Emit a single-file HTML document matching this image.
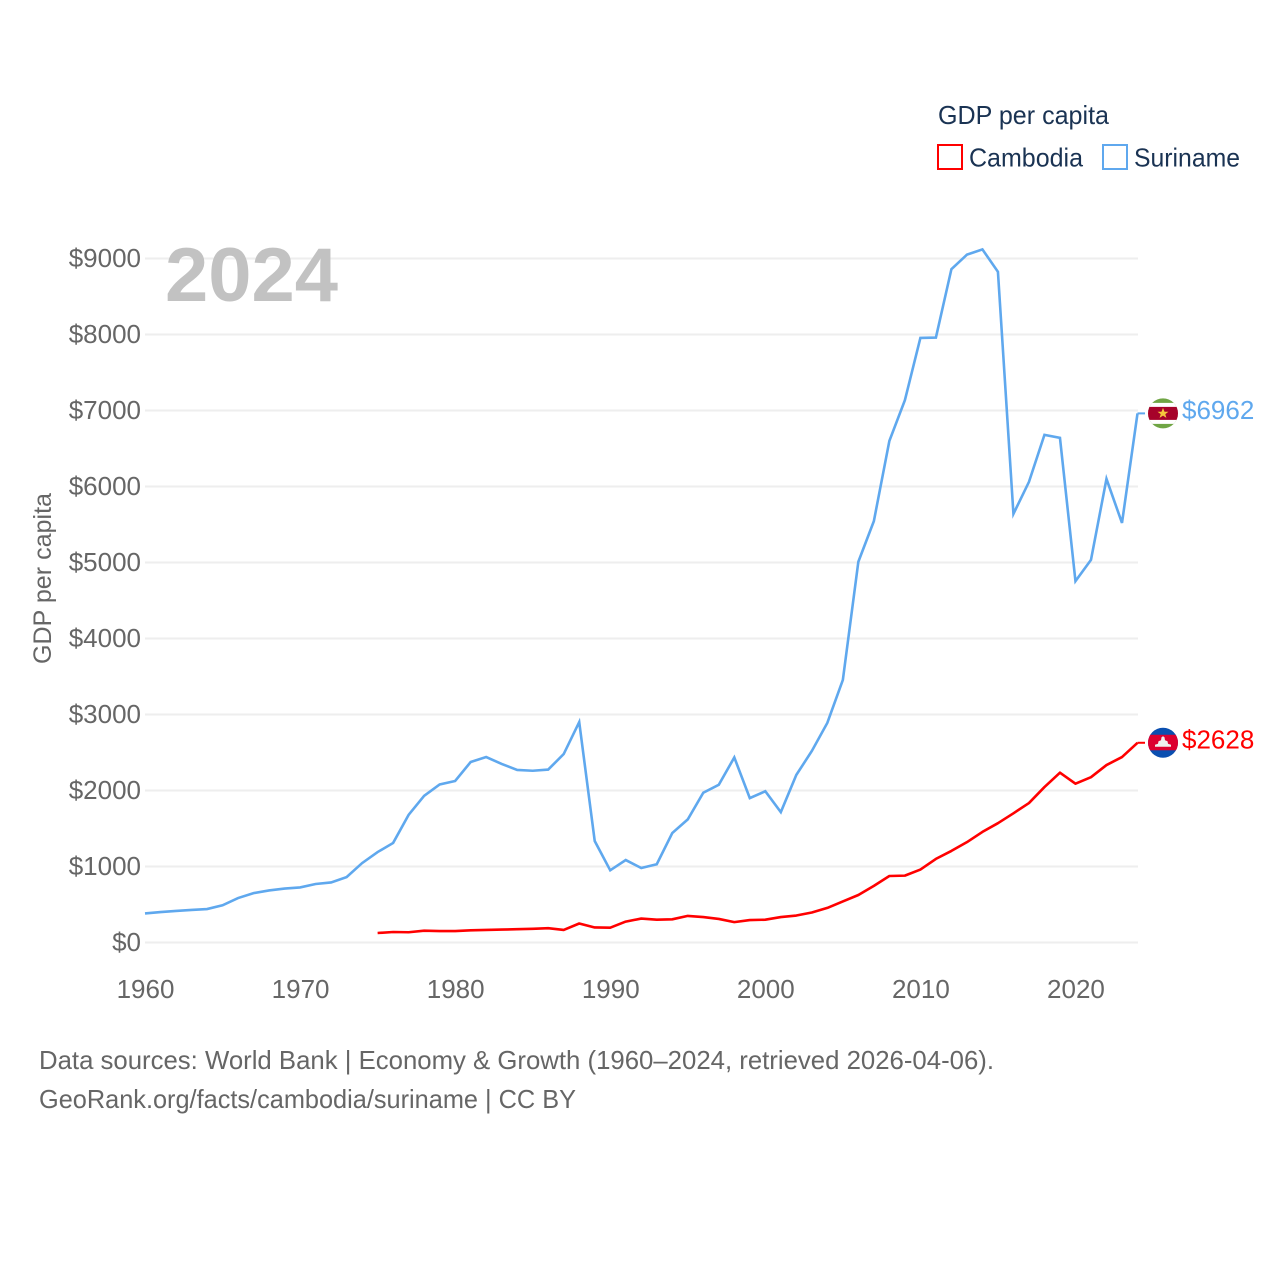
<!DOCTYPE html>
<html lang="en">
<head>
<meta charset="utf-8">
<title>GDP per capita: Cambodia and Suriname</title>
<style>
html,body{margin:0;padding:0;background:#fff;width:1280px;height:1280px;overflow:hidden}
svg{display:block;font-family:"Liberation Sans",Arial,sans-serif}
</style>
</head>
<body>
<svg id="chart" width="1280" height="1280" viewBox="0 0 1280 1280" xmlns="http://www.w3.org/2000/svg">
  <defs>
    <clipPath id="flag-clip"><circle cx="0" cy="0" r="15"></circle></clipPath>
  </defs>
  <rect x="0" y="0" width="1280" height="1280" fill="#fff"></rect>
  <g id="grid"></g>
  <g id="y-ticks"></g>
  <g id="x-ticks"></g>
  <text x="165" y="301" font-size="76" font-weight="700" fill="#c2c2c2" textLength="173" lengthAdjust="spacingAndGlyphs">2024</text>
  <text transform="translate(51,664) rotate(-90)" font-size="25" fill="#666" textLength="171" lengthAdjust="spacingAndGlyphs">GDP per capita</text>
  <g id="series"></g>
  <g>
    <text x="938" y="124" font-size="26" fill="#1a3353" textLength="171" lengthAdjust="spacingAndGlyphs">GDP per capita</text>
    <g>
      <rect x="938" y="145" width="24" height="24" fill="#fff" stroke="#ff0000" stroke-width="2"></rect>
      <text x="969" y="166.5" font-size="26" fill="#1a3353" textLength="114" lengthAdjust="spacingAndGlyphs">Cambodia</text>
    </g>
    <g>
      <rect x="1103" y="145" width="24" height="24" fill="#fff" stroke="#5fa8ee" stroke-width="2"></rect>
      <text x="1134" y="166.5" font-size="26" fill="#1a3353" textLength="106" lengthAdjust="spacingAndGlyphs">Suriname</text>
    </g>
  </g>
  <g id="end-markers"></g>
  <g>
    <text x="39" y="1069" font-size="26" fill="#666" textLength="955" lengthAdjust="spacingAndGlyphs">Data sources: World Bank | Economy &amp; Growth (1960–2024, retrieved 2026-04-06).</text>
    <text x="39" y="1108" font-size="26" fill="#666" textLength="537" lengthAdjust="spacingAndGlyphs">GeoRank.org/facts/cambodia/suriname | CC BY</text>
  </g>
</svg>
<script>
const xTickYears = [1960, 1970, 1980, 1990, 2000, 2010, 2020];
const yTickValues = [0, 1000, 2000, 3000, 4000, 5000, 6000, 7000, 8000, 9000];
const surinameStartYear = 1960;
const surinameValues = [382, 400, 415, 428, 440, 490, 585, 650, 685, 710, 725, 770, 790, 860, 1045, 1190, 1310, 1680, 1930, 2080, 2125, 2375, 2440, 2350, 2270, 2260, 2275, 2480, 2900, 1335, 950, 1085, 980, 1030, 1440, 1620, 1970, 2075, 2435, 1900, 1990, 1715, 2205, 2520, 2890, 3455, 5010, 5545, 6600, 7135, 7955, 7960, 8860, 9050, 9120, 8825, 5640, 6060, 6680, 6640, 4755, 5035, 6100, 5520, 6962];
const cambodiaStartYear = 1975;
const cambodiaValues = [125, 138, 135, 155, 150, 150, 160, 165, 170, 175, 180, 188, 165, 250, 198, 195, 275, 315, 300, 305, 350, 335, 310, 268, 295, 300, 335, 355, 395, 455, 540, 625, 745, 875, 880, 960, 1100, 1205, 1320, 1455, 1570, 1700, 1835, 2045, 2235, 2090, 2175, 2335, 2440, 2628];

const SVG_NS = 'http://www.w3.org/2000/svg';
function xScale(year) { return 145 + (year - 1960) * (1137.5 - 145) / 64; }
function yScale(value) { return 942.5 - value * 0.076; }
function make(tag, attrs, parent) {
  const el = document.createElementNS(SVG_NS, tag);
  for (const k in attrs) el.setAttribute(k, attrs[k]);
  parent.appendChild(el);
  return el;
}

const grid = document.getElementById('grid');
const yTicks = document.getElementById('y-ticks');
yTickValues.forEach(function (v) {
  const line = make('line', { x1: 145, x2: 1138, y1: yScale(v), y2: yScale(v), stroke: '#eeeeee', 'stroke-width': 2 }, grid);
  
  
  const label = make('text', { x: 141, y: yScale(v) + 8.5, 'text-anchor': 'end', 'font-size': 26, fill: '#666' }, yTicks);
  
  
  label.textContent = '$' + v;
});

const xTicks = document.getElementById('x-ticks');
xTickYears.forEach(function (yr) {
  const label = make('text', { x: xScale(yr) + 0.5, y: 998, 'text-anchor': 'middle', 'font-size': 26, fill: '#666' }, xTicks);
  
  
  label.textContent = yr;
});

function pathFor(startYear, values) {
  return values.map(function (v, i) {
    return (i ? 'L' : 'M') + xScale(startYear + i).toFixed(2) + ' ' + yScale(v).toFixed(2);
  }).join(' ');
}

const series = document.getElementById('series');
const surinameLine = make('path', { d: pathFor(surinameStartYear, surinameValues), fill: 'none', stroke: '#5fa8ee', 'stroke-width': 2.6, 'stroke-linejoin': 'miter' }, series);


const cambodiaLine = make('path', { d: pathFor(cambodiaStartYear, cambodiaValues), fill: 'none', stroke: '#ff0000', 'stroke-width': 2.6, 'stroke-linejoin': 'round' }, series);



const markers = document.getElementById('end-markers');
const FLAG_X = 1163;

function drawEnd(values, color) {
  const last = values[values.length - 1];
  const yy = yScale(last);
  const conn = make('line', { x1: 1137.5, x2: 1145, y1: yy, y2: yy, stroke: color, 'stroke-width': 2 }, markers);
  
  
  const label = make('text', { x: 1182, y: yy + 5.5, 'font-size': 26, fill: color }, markers);
  
  
  label.textContent = '$' + last;
  const flag = make('g', { transform: 'translate(' + FLAG_X + ',' + yy + ')', 'clip-path': 'url(#flag-clip)' }, markers);
  return flag;
}

const srFlag = drawEnd(surinameValues, '#5fa8ee');


make('rect', { x: -16, y: -16, width: 32, height: 32, fill: '#6fa544' }, srFlag);
make('rect', { x: -16, y: -10.5, width: 32, height: 21, fill: '#ffffff' }, srFlag);
make('rect', { x: -16, y: -6.5, width: 32, height: 13, fill: '#a6032a' }, srFlag);
make('polygon', { points: '0,-5.5 1.5,-1.7 5.5,-1.7 2.3,0.7 3.4,4.5 0,2.2 -3.4,4.5 -2.3,0.7 -5.5,-1.7 -1.5,-1.7', fill: '#f5c83c' }, srFlag);

const khFlag = drawEnd(cambodiaValues, '#ff0000');


make('rect', { x: -16, y: -16, width: 32, height: 32, fill: '#0a4fb0' }, khFlag);
make('rect', { x: -16, y: -8, width: 32, height: 15.5, fill: '#dc0030' }, khFlag);
make('polygon', { points: '-8,4 -8,2 -5,1 -4.5,-1.5 -2,-2.5 -1.5,-5.5 0,-6.5 1.5,-5.5 2,-2.5 4.5,-1.5 5,1 8,2 8,4', fill: '#efefef' }, khFlag);
</script>
</body>
</html>
